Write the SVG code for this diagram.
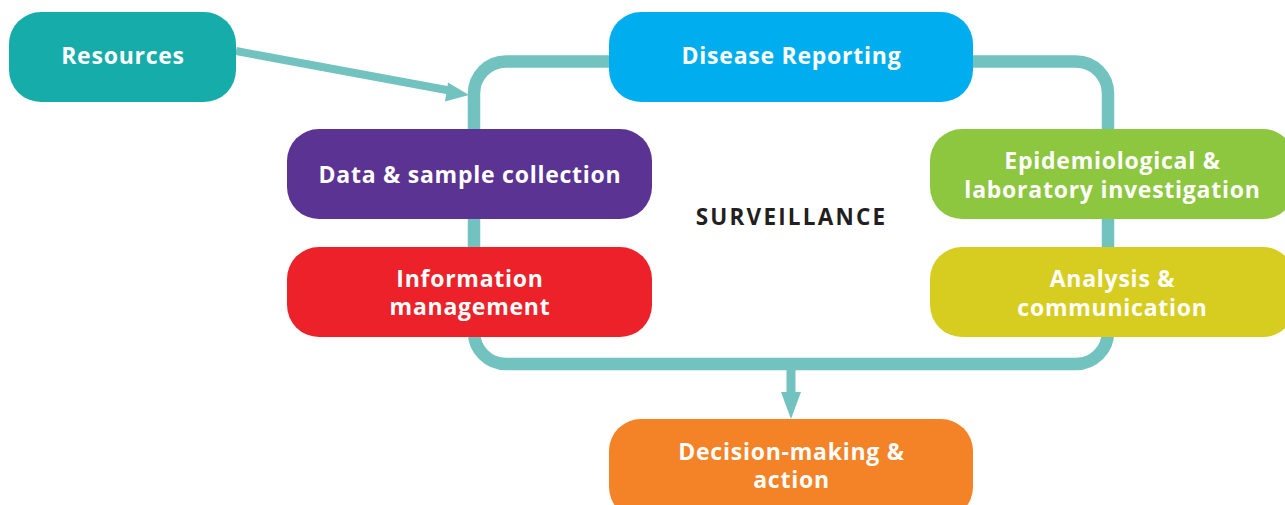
<svg xmlns="http://www.w3.org/2000/svg" width="1285" height="505" viewBox="0 0 1285 505">
<style>
.t{font-family:"Open Sans","Liberation Sans",sans-serif;font-weight:700;font-size:23px;letter-spacing:0.75px;fill:#ffffff;text-anchor:middle}
.s{font-family:"Open Sans","Liberation Sans",sans-serif;font-weight:700;font-size:22.5px;letter-spacing:2.2px;fill:#231f20;text-anchor:middle}
.c{fill:none;stroke:#72C2C0}
</style>
<rect width="1285" height="505" fill="#ffffff"/>
<g id="connectors">
<rect class="c" x="474" y="61.5" width="634" height="302.5" rx="32" stroke-width="12.5"/>
<line class="c" x1="236" y1="51" x2="452" y2="91" stroke-width="8"/>
<polygon points="469,95 448,82.5 445,101.5" fill="#72C2C0"/>
<line class="c" x1="791" y1="368" x2="791" y2="394" stroke-width="9"/>
<polygon points="781,392 801,392 791,419" fill="#72C2C0"/>
</g>
<g id="resources"><rect x="9" y="12" width="227" height="90" rx="32" fill="#16ACAA"/><text class="t" x="123" y="64">Resources</text></g>
<g id="disease-reporting"><rect x="609" y="12" width="364" height="90" rx="32" fill="#00AEEF"/><text class="t" x="791.5" y="64">Disease Reporting</text></g>
<g id="data-sample"><rect x="287" y="129" width="365" height="90" rx="32" fill="#5B3393"/><text class="t" x="470" y="183">Data &amp; sample collection</text></g>
<g id="information"><rect x="287" y="247" width="365" height="90" rx="32" fill="#ED2129"/><text class="t" x="470" y="287">Information</text><text class="t" x="470" y="315">management</text></g>
<g id="epidemiological"><rect x="930" y="129" width="365" height="90" rx="32" fill="#8DC63F"/><text class="t" x="1112.5" y="169">Epidemiological &amp;</text><text class="t" x="1112.5" y="198">laboratory investigation</text></g>
<g id="analysis"><rect x="930" y="247" width="365" height="90" rx="32" fill="#D7CD20"/><text class="t" x="1112.5" y="287">Analysis &amp;</text><text class="t" x="1112.5" y="316">communication</text></g>
<g id="decision"><rect x="609" y="419" width="364" height="100" rx="32" fill="#F48226"/><text class="t" x="791.5" y="460">Decision-making &amp;</text><text class="t" x="791.5" y="488">action</text></g>
<g id="surveillance"><text class="s" x="791.5" y="225">SURVEILLANCE</text></g>
</svg>
